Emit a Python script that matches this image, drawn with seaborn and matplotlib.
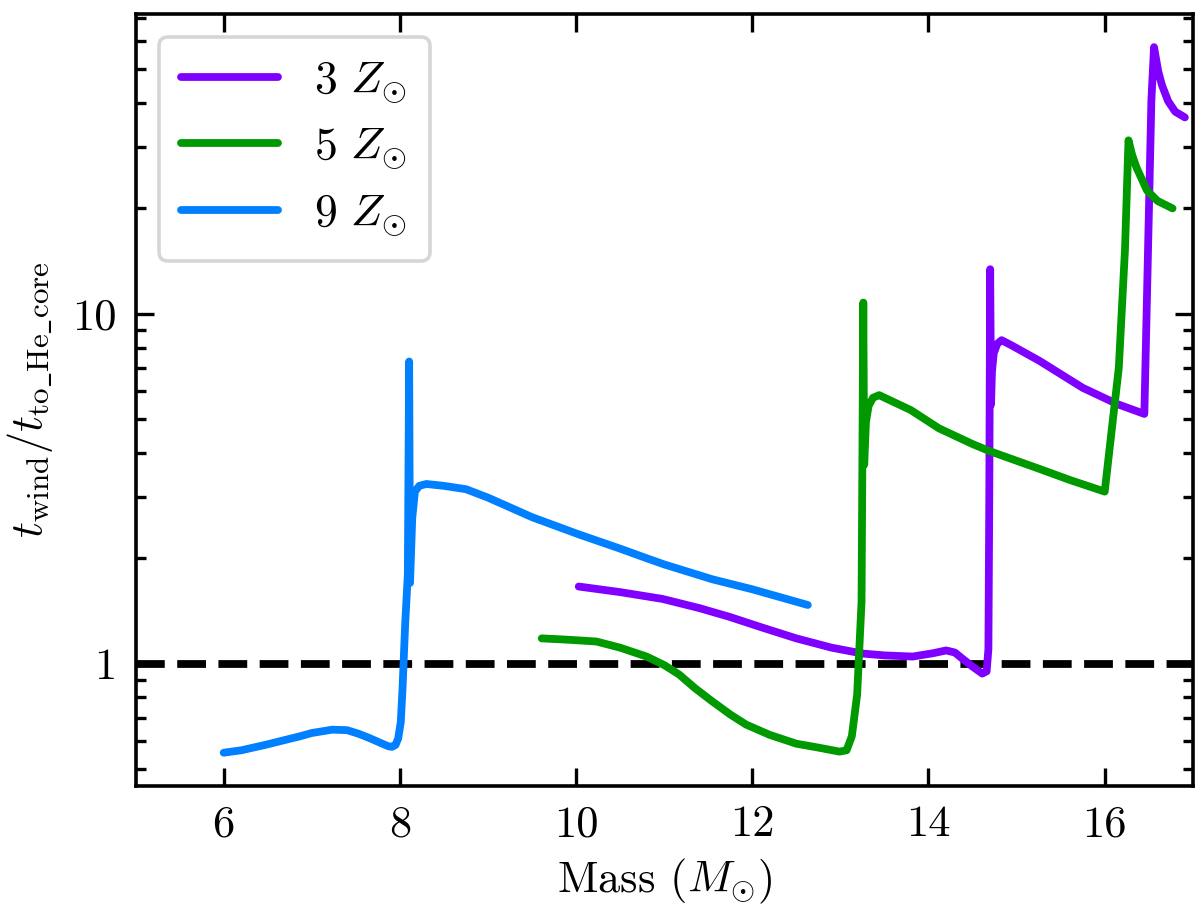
import numpy as np
import pandas as pd
import matplotlib
matplotlib.use("Agg")
import matplotlib.pyplot as plt
import seaborn as sns
from matplotlib.ticker import LogLocator, NullFormatter

# --- data ---
mass_3z = [10.03, 10.50, 10.98, 11.40, 11.74, 12.10, 12.50, 12.90, 13.25, 13.50,
           13.82, 14.05, 14.20, 14.30, 14.39, 14.50, 14.61, 14.66, 14.68, 14.69,
           14.70, 14.71, 14.72, 14.74, 14.78, 14.83, 14.95, 15.26, 15.75, 16.14,
           16.45, 16.53, 16.56, 16.58, 16.61, 16.65, 16.72, 16.80, 16.91]
ratio_3z = [1.66, 1.60, 1.53, 1.44, 1.36, 1.27, 1.18, 1.11, 1.068, 1.055,
            1.047, 1.07, 1.09, 1.075, 1.03, 0.98, 0.936, 0.95, 1.1, 3.0,
            13.4, 5.5, 6.8, 7.7, 8.2, 8.4, 8.1, 7.33, 6.14, 5.52,
            5.17, 40.8, 57.8, 54.0, 49.0, 45.0, 40.5, 37.8, 36.4]

mass_5z = [9.61, 9.90, 10.23, 10.50, 10.80, 11.00, 11.17, 11.35, 11.55, 11.75,
           11.93, 12.20, 12.50, 12.75, 12.99, 13.07, 13.13, 13.19, 13.24, 13.26,
           13.27, 13.29, 13.32, 13.37, 13.44, 13.80, 14.12, 14.50, 14.69, 15.26,
           15.60, 16.00, 16.16, 16.23, 16.27, 16.31, 16.36, 16.48, 16.60, 16.77]
ratio_5z = [1.18, 1.17, 1.156, 1.11, 1.047, 0.99, 0.93, 0.85, 0.778, 0.715,
            0.669, 0.625, 0.59, 0.575, 0.56, 0.565, 0.62, 0.815, 1.5, 10.76,
            3.7, 4.9, 5.45, 5.75, 5.85, 5.3, 4.7, 4.24, 4.05, 3.6,
            3.35, 3.1, 7.0, 15.2, 31.3, 28.5, 26.2, 22.5, 21.0, 20.0]

mass_9z = [6.00, 6.20, 6.48, 6.70, 6.85, 7.00, 7.23, 7.40, 7.53, 7.65,
           7.80, 7.87, 7.91, 7.95, 7.98, 8.01, 8.03, 8.06, 8.09, 8.105,
           8.115, 8.14, 8.17, 8.22, 8.30, 8.50, 8.75, 9.00, 9.27, 9.50,
           10.03, 10.50, 10.80, 11.00, 11.55, 12.00, 12.63]
ratio_9z = [0.556, 0.565, 0.586, 0.605, 0.618, 0.633, 0.647, 0.645, 0.630, 0.613,
            0.590, 0.580, 0.578, 0.585, 0.61, 0.68, 0.85, 1.3, 1.8, 7.3,
            1.7, 2.6, 3.1, 3.22, 3.26, 3.22, 3.15, 2.98, 2.78, 2.62,
            2.34, 2.13, 2.0, 1.92, 1.74, 1.63, 1.47]

labels = [r'$3\ Z_{\odot}$', r'$5\ Z_{\odot}$', r'$9\ Z_{\odot}$']
colors = ['#7f00ff', '#009900', '#0080ff']
xticks = [6, 8, 10, 12, 14, 16]
yticks = [1, 10]
ytick_labels = ['1', '10']

sns.set_style('ticks')
plt.rcParams['font.family'] = ['serif']
plt.rcParams['font.serif'] = ['cmr10', 'DejaVu Serif']
plt.rcParams['mathtext.fontset'] = 'cm'
plt.rcParams['axes.formatter.use_mathtext'] = True
for key in ['text.color', 'axes.labelcolor', 'xtick.color', 'ytick.color', 'axes.edgecolor']:
    plt.rcParams[key] = 'black'

fig = plt.figure(figsize=(6, 4.585), dpi=200)
ax = fig.add_axes([0.113, 0.143, 0.881, 0.842])

series = [(mass_3z, ratio_3z), (mass_5z, ratio_5z), (mass_9z, ratio_9z)]
for (m, r), lab, c in zip(series, labels, colors):
    df = pd.DataFrame({'mass': m, 'ratio': r})
    sns.lineplot(data=df, x='mass', y='ratio', ax=ax, color=c, lw=2.8,
                 label=lab, sort=False, estimator=None,
                 solid_capstyle='round', solid_joinstyle='round')

ax.axhline(1, color='black', ls='--', lw=2.8, zorder=1)

ax.set_yscale('log')
ax.set_xlim(5, 17)
ax.set_ylim(0.447, 72)
ax.set_xticks(xticks)
ax.set_xticklabels([str(t) for t in xticks])
ax.set_yticks(yticks)
ax.set_yticklabels(ytick_labels)
ax.yaxis.set_minor_locator(LogLocator(base=10, subs=np.arange(2, 10)))
ax.yaxis.set_minor_formatter(NullFormatter())

ax.tick_params(which='both', direction='in', top=True, right=True, width=1.2,
               labelsize=16, color='black')
ax.tick_params(which='major', length=6.5, pad=7)
ax.tick_params(which='minor', length=3.5)
for s in ax.spines.values():
    s.set_linewidth(1.3)
    s.set_color('black')

ax.set_xlabel(r'Mass ($M_{\odot}$)', fontsize=16, labelpad=4)
ax.set_ylabel(r'$t_{\rm wind}/t_{\rm to\_He\_core}$', fontsize=16, labelpad=6)

leg = ax.legend(loc='upper left', fontsize=16.5, handlelength=2.1,
                borderpad=0.5, labelspacing=0.45, handletextpad=0.8,
                framealpha=0.8, fancybox=True)
leg.get_frame().set_edgecolor('#cccccc')
leg.get_frame().set_linewidth(1.3)

fig.savefig('out.png', dpi=200)
